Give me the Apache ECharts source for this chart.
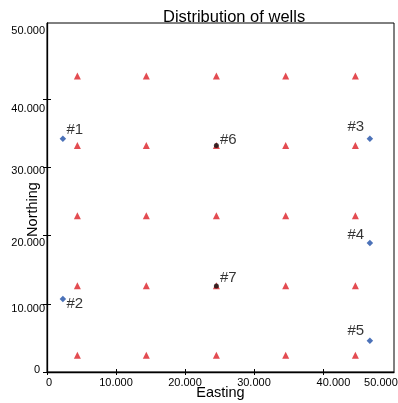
<!DOCTYPE html>
<html>
<head>
<meta charset="utf-8">
<script src="https://cdn.jsdelivr.net/npm/echarts@6/dist/echarts.min.js"></script>
<style>html,body{margin:0;padding:0;background:#fff}#c{width:398px;height:403px}</style>
</head>
<body>
<div id="c"></div>
<script>
// ---- data ----
var title = 'Distribution of wells';
var xName = 'Easting';
var yName = 'Northing';
var xTicks = [0, 10000, 20000, 30000, 40000];
var yTicks = [0, 10000, 20000, 30000, 40000];
var xTickLabels = [0, 10000, 20000, 30000, 40000, 50000];
var yTickLabels = [0, 10000, 20000, 30000, 40000, 50000];
var gridX = [4400, 14400, 24550, 34600, 44700];
var gridY = [2450, 12650, 22900, 33200, 43400];
var wellNames = ['#1', '#2', '#3', '#4', '#5'];
var wellX = [2300, 2300, 46800, 46800, 46800];
var wellY = [34200, 10700, 34200, 18900, 4600];
var obsNames = ['#6', '#7'];
var obsX = [24550, 24550];
var obsY = [33200, 12600];

// ---- styling (not data) ----
var FONT = '"Liberation Sans", Arial, Helvetica, sans-serif';
var labelOffsets = {
  '#1': [12, -9], '#2': [12, 5], '#3': [-14, -12], '#4': [-14, -8],
  '#5': [-14, -10], '#6': [12, -6], '#7': [12, -8]
};
function fmtNum(v) {
  if (v === 0) return '0';
  return (v / 1000).toFixed(0) + '.000';
}
var xRichKey = {0: 'x0', 40000: 'x40', 50000: 'x50'};
var yRichKey = {0: 'y0', 10000: 'y10', 20000: 'y20', 30000: 'y30', 40000: 'y40', 50000: 'y50'};

var triData = [];
gridY.forEach(function (y) { gridX.forEach(function (x) { triData.push([x, y]); }); });

function labeled(names, xs, ys) {
  return names.map(function (n, i) {
    return {
      name: n, value: [xs[i], ys[i]],
      label: { show: true, position: 'inside', offset: labelOffsets[n], formatter: n,
        color: '#000', fontSize: 15, fontFamily: FONT }
    };
  });
}

var XMAX = 50300, YMAX = 51170;
var chart = echarts.init(document.getElementById('c'), null, {renderer: 'canvas'});
chart.setOption({
  animation: false,
  backgroundColor: '#fff',
  title: {
    text: title, left: 158, top: 4,
    textStyle: { fontFamily: FONT, fontSize: 16.5, fontWeight: 'normal', color: '#000' }
  },
  grid: { left: 47, right: 4, top: 23, bottom: 31, containLabel: false, outerBoundsMode: 'none',
    show: true, borderColor: '#000', borderWidth: 1, backgroundColor: 'transparent' },
  xAxis: [{
    type: 'value', min: 0, max: XMAX, position: 'bottom',
    name: xName, nameLocation: 'middle', nameGap: 13, nameMoveOverlap: false,
    nameTextStyle: { fontFamily: FONT, fontSize: 14.5, color: '#000' },
    axisLine: { show: true, lineStyle: { color: '#000', width: 1.3 } },
    axisTick: { show: true, length: 3, lineStyle: { color: '#000', width: 1 }, customValues: xTicks },
    axisLabel: {
      customValues: xTickLabels, margin: 5, color: '#000', fontSize: 11, fontFamily: FONT,
      formatter: function (v) { var k = xRichKey[v]; return k ? '{' + k + '|' + fmtNum(v) + '}' : fmtNum(v); },
      rich: {
        x0: { padding: [0, 0, 0, 4], fontSize: 11, fontFamily: FONT, color: '#000' },
        x40: { padding: [0, 0, 0, 21], fontSize: 11, fontFamily: FONT, color: '#000' },
        x50: { padding: [0, 22, 0, 0], fontSize: 11, fontFamily: FONT, color: '#000' }
      }
    },
    splitLine: { show: false }
  }, {
    type: 'value', min: 0, max: XMAX, position: 'bottom',
    axisLine: { show: false },
    axisTick: { show: true, inside: true, length: 3, lineStyle: { color: '#000', width: 1 }, customValues: xTicks },
    axisLabel: { show: false }, splitLine: { show: false }
  }],
  yAxis: [{
    type: 'value', min: 0, max: YMAX, position: 'left',
    name: yName, nameLocation: 'middle', nameGap: 7, nameMoveOverlap: false,
    nameTextStyle: { fontFamily: FONT, fontSize: 14.5, color: '#000', padding: [0, 24, 0, 0] },
    axisLine: { show: true, lineStyle: { color: '#000', width: 1.3 } },
    axisTick: { show: true, length: 4, lineStyle: { color: '#000', width: 1 }, customValues: yTicks },
    axisLabel: {
      customValues: yTickLabels, margin: 2, color: '#000', fontSize: 11, fontFamily: FONT,
      formatter: function (v) { var k = yRichKey[v]; return '{' + k + '|' + fmtNum(v) + '}'; },
      rich: {
        y0: { padding: [0, 5, 4, 0], fontSize: 11, fontFamily: FONT, color: '#000' },
        y10: { padding: [10, 0, 0, 0], fontSize: 11, fontFamily: FONT, color: '#000' },
        y20: { padding: [14, 0, 0, 0], fontSize: 11, fontFamily: FONT, color: '#000' },
        y30: { padding: [8, 0, 0, 0], fontSize: 11, fontFamily: FONT, color: '#000' },
        y40: { padding: [20, 0, 0, 0], fontSize: 11, fontFamily: FONT, color: '#000' },
        y50: { padding: [0, 0, 0, 0], fontSize: 11, fontFamily: FONT, color: '#000' }
      }
    },
    splitLine: { show: false }
  }, {
    type: 'value', min: 0, max: YMAX, position: 'left',
    axisLine: { show: false },
    axisTick: { show: true, inside: true, length: 4, lineStyle: { color: '#000', width: 1 }, customValues: yTicks },
    axisLabel: { show: false }, splitLine: { show: false }
  }],
  series: [{
    type: 'scatter', data: triData, symbol: 'triangle', symbolSize: 7,
    itemStyle: { color: '#dc1f26' }, z: 2
  }, {
    type: 'scatter', data: labeled(wellNames, wellX, wellY), symbol: 'diamond', symbolSize: 6.5,
    itemStyle: { color: '#1f4fa6' }, z: 3
  }, {
    type: 'scatter', data: labeled(obsNames, obsX, obsY), symbol: 'circle', symbolSize: 5,
    itemStyle: { color: '#111' }, z: 4
  }]
});
</script>
</body>
</html>
